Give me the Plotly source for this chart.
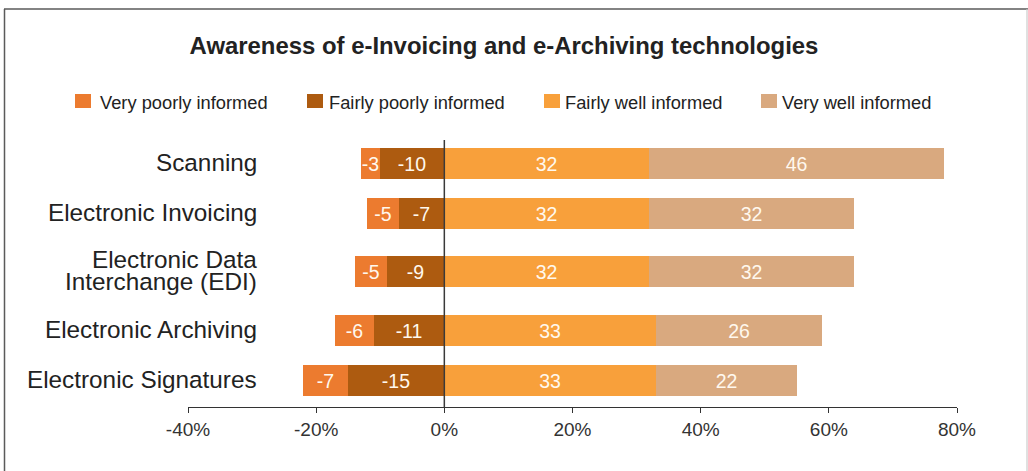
import plotly.graph_objects as go

# ---- data ----
categories = [
    "Scanning",
    "Electronic Invoicing",
    "Electronic Data<br>Interchange (EDI)",
    "Electronic Archiving",
    "Electronic Signatures",
]
very_poorly = [-3, -5, -5, -6, -7]
fairly_poorly = [-10, -7, -9, -11, -15]
fairly_well = [32, 32, 32, 33, 33]
very_well = [46, 32, 32, 26, 22]

series_names = [
    "Very poorly informed",
    "Fairly poorly informed",
    "Fairly well informed",
    "Very well informed",
]
x_tick_values = [-40, -20, 0, 20, 40, 60, 80]
x_tick_labels = ["-40%", "-20%", "0%", "20%", "40%", "60%", "80%"]

# ---- styling / layout ----
FONT = "Liberation Sans, Arial, Helvetica, sans-serif"
colors = {
    "Very poorly informed": "#ec7b2f",
    "Fairly poorly informed": "#ad5b10",
    "Fairly well informed": "#f8a03b",
    "Very well informed": "#d9a97f",
}
LABEL_COLOR = "#fff8ee"
TEXT_COLOR = "#222222"

FIG_W, FIG_H = 1028, 471
L, R, T, B = 188, 957, 140, 407          # plot area in pixels
PW, PH = R - L, B - T

# row centres measured from the top of the plot area (pixel units on the y axis)
row_y = [23.5, 73.5, 131.5, 190.5, 240.5]
BAR_W = 31


def px_x(px):
    return (px - L) / PW


def px_y(py):
    return (B - py) / PH


fig = go.Figure()

# negative segments: fairly poorly sits next to zero, very poorly outside it
for name, vals in [
    ("Fairly poorly informed", fairly_poorly),
    ("Very poorly informed", very_poorly),
    ("Fairly well informed", fairly_well),
    ("Very well informed", very_well),
]:
    fig.add_trace(go.Bar(
        name=name,
        orientation="h",
        y=row_y,
        x=vals,
        width=BAR_W,
        marker=dict(color=colors[name], line=dict(width=0)),
        text=[str(v) for v in vals],
        textposition="inside",
        insidetextanchor="middle",
        textangle=0,
        constraintext="none",
        textfont=dict(family=FONT, size=19.5, color=LABEL_COLOR),
        showlegend=False,
        hoverinfo="skip",
    ))

shapes = []
annotations = []

# zero line drawn over the bars
shapes.append(dict(type="line", xref="x", yref="paper", x0=0, x1=0, y0=0, y1=1,
                   line=dict(color="#3a3a3a", width=1.5), layer="above"))

# outer frame
shapes.append(dict(type="line", xref="paper", yref="paper",
                   x0=px_x(4), x1=px_x(1028), y0=px_y(9), y1=px_y(9),
                   line=dict(color="#5a5a5a", width=1.5)))
shapes.append(dict(type="line", xref="paper", yref="paper",
                   x0=px_x(4.5), x1=px_x(4.5), y0=px_y(9), y1=px_y(480),
                   line=dict(color="#5a5a5a", width=1.5)))
shapes.append(dict(type="line", xref="paper", yref="paper",
                   x0=px_x(1027), x1=px_x(1027), y0=px_y(9), y1=px_y(480),
                   line=dict(color="#cccccc", width=1.2)))

# legend: swatches and labels
legend_swatch_x = [75, 307, 544, 761]
legend_text_x = [98, 327, 563, 780]
LEG_Y = 101
for name, sx, tx in zip(series_names, legend_swatch_x, legend_text_x):
    shapes.append(dict(type="rect", xref="paper", yref="paper",
                       x0=px_x(sx), x1=px_x(sx + 16),
                       y0=px_y(LEG_Y + 7), y1=px_y(LEG_Y - 7),
                       fillcolor=colors[name], line=dict(width=0)))
    annotations.append(dict(text=name, xref="paper", yref="paper",
                            x=px_x(tx), y=px_y(LEG_Y + 1), xanchor="left", yanchor="middle",
                            showarrow=False,
                            font=dict(family=FONT, size=18.3, color=TEXT_COLOR)))

# category labels, right aligned beside the bars
CAT_RIGHT = 259
LINE_PITCH = 22
for cat, yc in zip(categories, row_y):
    lines = cat.split("<br>")
    n = len(lines)
    for i, line in enumerate(lines):
        off = (i - (n - 1) / 2) * LINE_PITCH
        annotations.append(dict(text=line, xref="paper", yref="y",
                                x=px_x(CAT_RIGHT), y=yc + off - 1,
                                xanchor="right", yanchor="middle", showarrow=False,
                                font=dict(family=FONT, size=24.3, color=TEXT_COLOR)))

fig.update_layout(
    width=FIG_W, height=FIG_H,
    margin=dict(l=L, r=FIG_W - R, t=T, b=FIG_H - B, pad=0),
    paper_bgcolor="white",
    plot_bgcolor="white",
    barmode="relative",
    bargap=0,
    uniformtext=dict(minsize=19.5, mode="show"),
    title=dict(
        text="Awareness of e-Invoicing and e-Archiving technologies",
        x=504 / FIG_W, xanchor="center", xref="container",
        y=1 - 46 / FIG_H, yanchor="middle", yref="container",
        font=dict(family=FONT, size=23.9, color=TEXT_COLOR, weight="bold"),
    ),
    xaxis=dict(
        range=[-40, 80],
        tickvals=x_tick_values,
        ticktext=x_tick_labels,
        ticks="outside", ticklen=5, tickwidth=1.2, tickcolor="#333333",
        showline=True, linecolor="#333333", linewidth=1.2,
        showgrid=False, zeroline=False,
        tickfont=dict(family=FONT, size=19, color="#333333"),
        fixedrange=True,
    ),
    yaxis=dict(
        range=[PH, 0],
        showticklabels=False, showgrid=False, zeroline=False, showline=False,
        ticks="", fixedrange=True,
    ),
    shapes=shapes,
    annotations=annotations,
    font=dict(family=FONT),
)

fig.write_html("out.html")
